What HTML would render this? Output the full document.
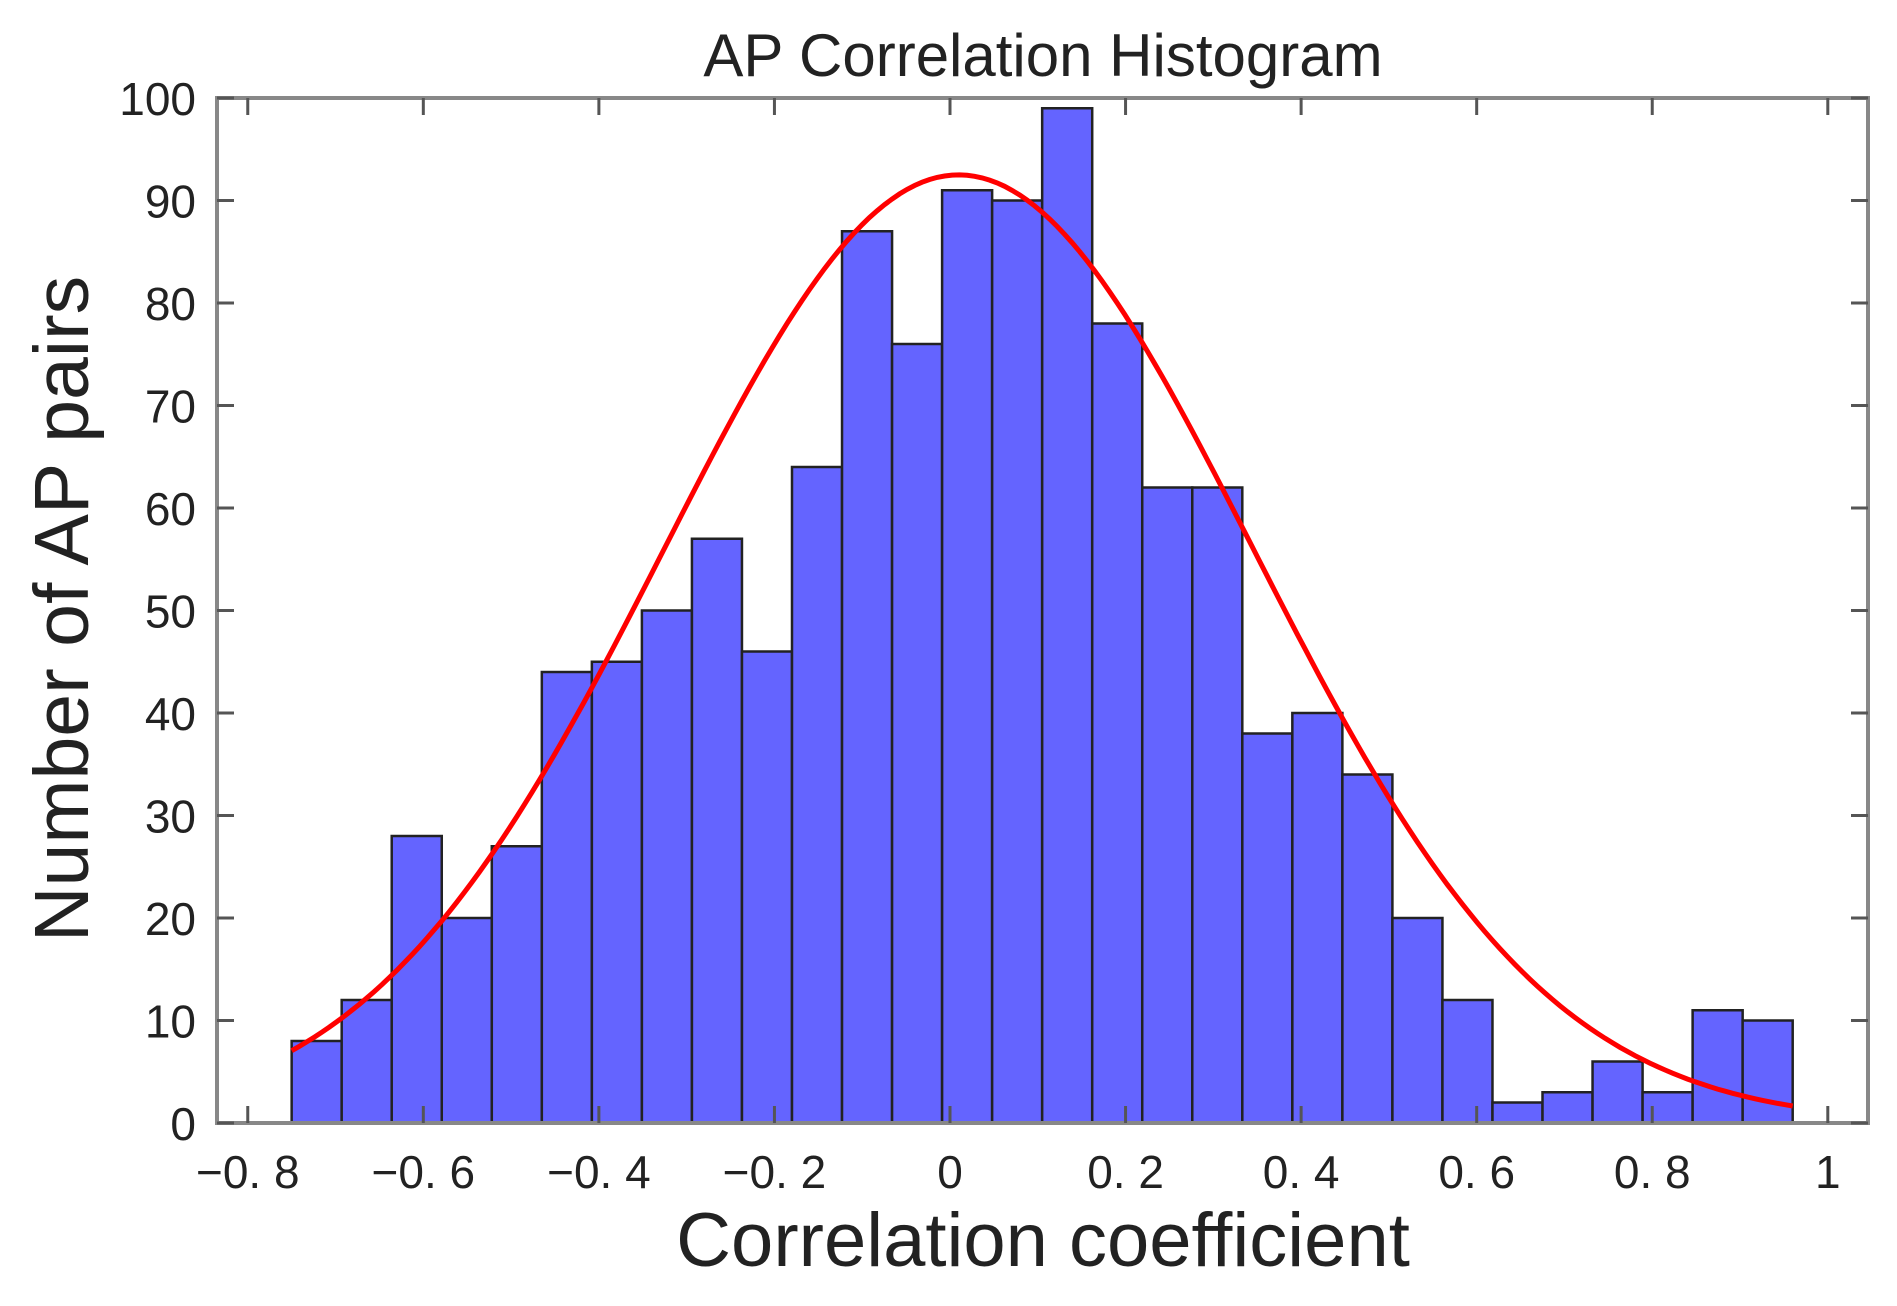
<!DOCTYPE html>
<html><head><meta charset="utf-8"><style>
html,body{margin:0;padding:0;background:#fff;}
svg text{font-family:"Liberation Sans","DejaVu Sans",sans-serif;fill:#222;}
</style></head><body>
<svg id="chart" width="1897" height="1301" viewBox="0 0 1897 1301" xmlns="http://www.w3.org/2000/svg">
<g id="bars"></g>
<path id="fit" fill="none" stroke="#ff0000" stroke-width="5"/>
<g id="axes"></g>
<text x="1043" y="76" font-size="60" text-anchor="middle">AP Correlation Histogram</text>
<text x="1043" y="1266" font-size="76" text-anchor="middle">Correlation coefficient</text>
<text transform="translate(88,609) rotate(-90)" font-size="77" text-anchor="middle">Number of AP pairs</text>
</svg>
<script>
const binStart = -0.75;
const binWidth = 0.057;
const counts = [8,12,28,20,27,44,45,50,57,46,64,87,76,91,90,99,78,62,62,38,40,34,20,12,2,3,6,3,11,10];
const xTicks = [-0.8,-0.6,-0.4,-0.2,0,0.2,0.4,0.6,0.8,1];
const xTickLabels = ["\u22120. 8","\u22120. 6","\u22120. 4","\u22120. 2","0","0. 2","0. 4","0. 6","0. 8","1"];
const yTicks = [0,10,20,30,40,50,60,70,80,90,100];
const fitMu = [0.01];
const fitSigma = [0.335];
const fitPeak = [92.5];

const L=217,R=1868,T=98,B=1123;
const xs = v => 950 + 877.8*v;
const ys = c => B - 10.25*c;
const NS="http://www.w3.org/2000/svg";
function mk(tag, attrs, parent){const e=document.createElementNS(NS,tag);for(const k in attrs)e.setAttribute(k,attrs[k]);parent.appendChild(e);return e;}

const bars=document.getElementById('bars');
counts.forEach((c,i)=>{
  const x0=xs(binStart+i*binWidth), x1=xs(binStart+(i+1)*binWidth);
  const r=mk('rect',{x:x0,y:ys(c),width:x1-x0,height:B-ys(c),fill:'#6464ff',stroke:'#222','stroke-width':2.5},bars);
  
  
});

let d='';
const xa=binStart, xb=binStart+counts.length*binWidth;
for(let k=0;k<=200;k++){
  const v=xa+(xb-xa)*k/200;
  const c=fitPeak[0]*Math.exp(-Math.pow(v-fitMu[0],2)/(2*fitSigma[0]*fitSigma[0]));
  d+=(k?'L':'M')+xs(v).toFixed(1)+','+ys(c).toFixed(1);
}
document.getElementById('fit').setAttribute('d',d);

const ax=document.getElementById('axes');
const frame=mk('rect',{x:L,y:T,width:R-L,height:B-T,fill:'none',stroke:'#888','stroke-width':4},ax);


xTicks.forEach((v,i)=>{
  const x=xs(v);
  mk('line',{x1:x,y1:B,x2:x,y2:B-17,stroke:'#555','stroke-width':3},ax);
  mk('line',{x1:x,y1:T,x2:x,y2:T+17,stroke:'#555','stroke-width':3},ax);
  const t=mk('text',{x:x,y:1188,'font-size':46,'text-anchor':'middle'},ax);
  t.textContent=xTickLabels[i];
  
  
});
yTicks.forEach(c=>{
  const y=ys(c);
  mk('line',{x1:L,y1:y,x2:L+17,y2:y,stroke:'#555','stroke-width':3},ax);
  mk('line',{x1:R,y1:y,x2:R-17,y2:y,stroke:'#555','stroke-width':3},ax);
  const t=mk('text',{x:196,y:y+17,'font-size':46,'text-anchor':'end'},ax);
  t.textContent=String(c);
  
  
});
</script>
</body></html>
